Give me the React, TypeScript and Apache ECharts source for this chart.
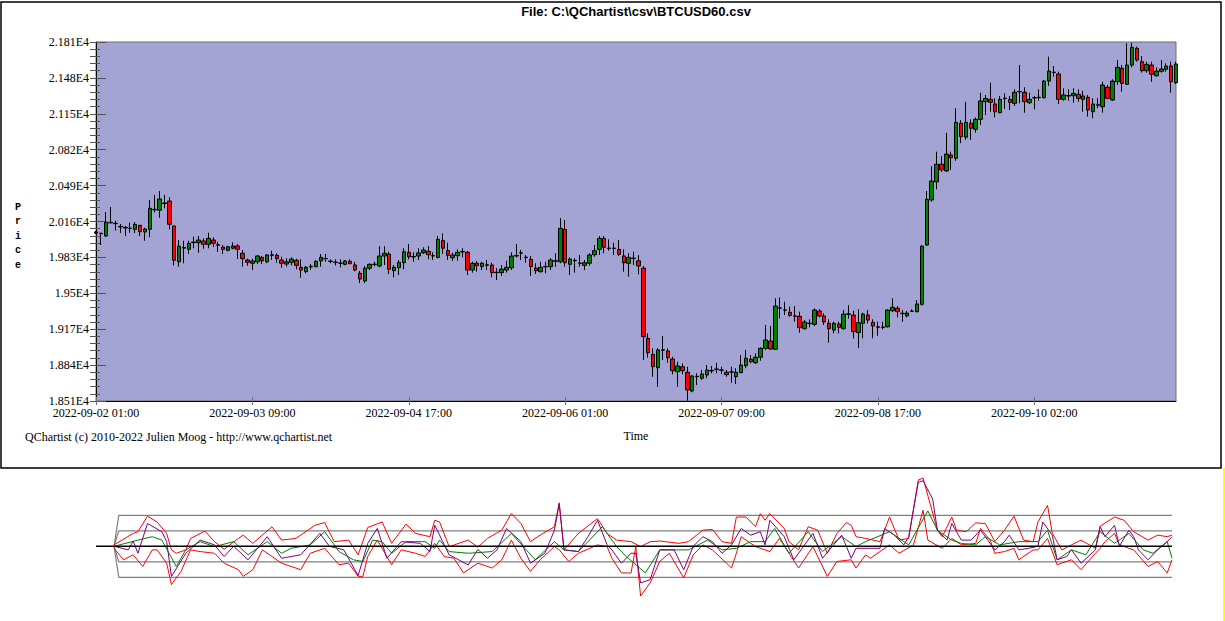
import React, { useEffect, useRef } from "react";
import * as echarts from "echarts";

const tickLabels = ["2022-09-02 01:00", "2022-09-03 09:00", "2022-09-04 17:00", "2022-09-06 01:00", "2022-09-07 09:00", "2022-09-08 17:00", "2022-09-10 02:00"];

const opens = [20064,20052,20027,20153,20144,20115,20106,20095,20088,20125,20064,20088,20272,20263,20330,20348,20119,19790,19915,19904,19966,19965,19981,19950,19990,19946,19925,19895,19914,19935,19868,19806,19776,19790,19830,19790,19849,19849,19806,19769,19785,19803,19739,19699,19743,19745,19797,19820,19793,19786,19778,19766,19794,19760,19684,19613,19731,19768,19751,19843,19861,19708,19735,19781,19877,19838,19843,19873,19886,19846,19830,19984,19892,19827,19846,19880,19877,19714,19776,19745,19762,19760,19694,19690,19714,19735,19843,19872,19832,19812,19731,19699,19743,19745,19799,19790,20088,19766,19799,19776,19757,19776,19855,19904,20005,19916,19912,19904,19843,19776,19820,19799,19731,19086,18939,18816,18977,18970,18896,18779,18825,18774,18602,18733,18719,18749,18791,18800,18796,18774,18778,18733,18770,18834,18893,18862,18912,18994,19061,18985,19363,19347,19325,19292,19288,19175,19222,19215,19337,19291,19224,19162,19218,19177,19307,19300,19138,19224,19300,19233,19192,19186,19192,19340,19362,19316,19293,19335,19331,19399,19944,20358,20524,20686,20625,20771,20741,21063,20935,21063,21008,21099,21261,21283,21240,21160,21290,21283,21246,21352,21348,21252,21296,21299,21298,21451,21530,21516,21283,21314,21316,21329,21283,21302,21169,21229,21215,21394,21277,21445,21568,21421,21598,21752,21629,21546,21598,21500,21540,21559,21589,21436];
const highs = [20073,20056,20247,20293,20167,20137,20119,20149,20155,20128,20103,20358,20404,20440,20404,20382,20120,19990,19983,19983,20021,20027,20005,20057,20014,19974,19944,19935,19969,19953,19898,19818,19818,19852,19843,19861,19892,19868,19836,19822,19830,19818,19812,19751,19769,19806,19861,19861,19812,19812,19812,19806,19812,19788,19705,19751,19776,19790,19933,19933,19882,19760,19806,19914,19953,19877,19914,19923,19933,19877,20027,20051,19965,19873,19904,19914,19889,19790,19797,19790,19806,19781,19731,19760,19799,19877,19953,19899,19852,19843,19776,19790,19790,19822,19868,20192,20174,19830,19822,19852,19806,19868,19944,20027,20027,19996,19965,19990,19904,19868,19882,19852,19751,19132,18995,18995,19107,18994,18917,18871,18856,18825,18749,18765,18795,18841,18832,18862,18825,18795,18825,18811,18933,18979,18933,18948,19004,19209,19199,19454,19463,19423,19377,19383,19331,19255,19261,19361,19353,19316,19261,19239,19239,19346,19392,19340,19353,19322,19346,19261,19239,19239,19353,19454,19383,19346,19337,19353,19438,19942,20440,20670,20802,20762,20976,20802,21201,21092,21261,21099,21117,21344,21323,21436,21292,21314,21338,21314,21375,21598,21394,21344,21314,21375,21461,21675,21589,21537,21384,21375,21384,21375,21362,21323,21292,21292,21445,21415,21467,21644,21598,21798,21803,21767,21681,21629,21629,21577,21644,21614,21629,21629];
const lows = [20045,19944,20018,20140,20076,20054,20027,20057,20054,20027,19983,20015,20244,20195,20281,20088,19757,19745,19776,19861,19914,19873,19910,19914,19927,19882,19861,19886,19904,19816,19745,19754,19714,19769,19769,19776,19806,19781,19735,19745,19757,19721,19643,19684,19714,19739,19745,19790,19776,19757,19739,19757,19769,19702,19595,19595,19714,19748,19739,19760,19677,19647,19668,19721,19812,19790,19806,19861,19812,19806,19821,19861,19806,19799,19799,19830,19668,19690,19699,19714,19714,19647,19622,19659,19690,19714,19830,19806,19781,19659,19677,19690,19684,19714,19745,19776,19745,19668,19690,19745,19714,19754,19836,19852,19868,19892,19852,19843,19699,19653,19760,19674,18887,18908,18733,18641,18887,18862,18755,18641,18755,18512,18590,18657,18703,18719,18765,18765,18758,18733,18678,18666,18765,18811,18856,18850,18880,18979,18979,18979,19267,19300,19285,19239,19138,19166,19187,19199,19279,19209,19046,19132,19132,19162,19267,19085,18998,19086,19224,19086,19110,19169,19186,19327,19279,19239,19279,19332,19325,19387,19935,20342,20456,20616,20616,20634,20718,20880,20911,20911,20977,21047,21139,21170,21117,21155,21194,21185,21222,21246,21160,21240,21191,21270,21292,21406,21491,21240,21270,21270,21252,21261,21169,21124,21109,21201,21160,21283,21270,21415,21353,21415,21577,21629,21528,21528,21445,21491,21528,21537,21344,21424];
const closes = [20054,20048,20153,20148,20140,20110,20100,20099,20134,20066,20091,20281,20268,20367,20325,20134,19803,19933,19920,19959,19971,19990,19950,20005,19960,19942,19904,19928,19935,19904,19819,19785,19797,19843,19799,19852,19854,19819,19776,19790,19815,19757,19714,19739,19748,19794,19830,19818,19796,19784,19776,19797,19772,19714,19631,19731,19766,19764,19843,19868,19721,19739,19785,19882,19836,19834,19871,19898,19855,19843,19996,19914,19849,19852,19877,19884,19714,19776,19754,19776,19758,19690,19690,19721,19739,19843,19847,19870,19828,19745,19708,19739,19747,19806,19795,20097,19781,19815,19802,19778,19781,19852,19892,20005,19923,19912,19915,19858,19781,19830,19823,19751,19101,18954,18825,18979,18981,18908,18788,18832,18788,18611,18740,18737,18758,18795,18787,18804,18793,18752,18776,18774,18841,18903,18871,18912,18994,19071,18988,19383,19366,19345,19297,19290,19184,19236,19226,19346,19291,19236,19175,19224,19187,19309,19311,19147,19230,19309,19254,19199,19188,19190,19346,19371,19331,19313,19318,19337,19402,19933,20364,20532,20686,20634,20780,20746,21072,20940,21072,21017,21099,21268,21292,21256,21169,21283,21294,21256,21348,21355,21261,21283,21298,21302,21451,21543,21533,21283,21323,21317,21338,21292,21314,21185,21240,21233,21415,21292,21451,21577,21430,21598,21761,21644,21546,21605,21513,21543,21562,21589,21445,21608];

const bandLevels = [2, 1, -1, -2];

const oscRedUp = [[0,0.09],[4,0.83],[5,0.94],[7,1.94],[9,1.57],[11,0.83],[12,-0.23],[13,-0.45],[15,-0.23],[16,0.51],[19,0.98],[21,0.3],[23,-0.19],[26,0.51],[27,0.72],[29,0.19],[33,1.26],[35,0.4],[38,0.51],[42,1.36],[44,1.53],[46,0.3],[49,0.4],[51,-0.55],[53,1.21],[56,1.57],[58,0.19],[61,1.43],[63,0.83],[66,0.62],[67,1.68],[68,1.57],[70,-0.02],[74,0.4],[76,-0.06],[78,0.51],[81,1.04],[83,2.11],[85,1.47],[87,0.3],[89,0.72],[92,1.26],[93,2.81],[94,-0.23],[97,0.83],[101,1.79],[103,0.83],[105,0.4],[108,0.3],[110,-0.02],[112,0.3],[114,0.34],[118,0.19],[120,0.3],[123,1.04],[125,1.09],[127,0.3],[129,0.19],[130,1.89],[132,1.89],[134,1.26],[135,2.11],[136,1.68],[137,2.11],[140,1.15],[141,0.3],[143,-0.23],[145,1.26],[147,1.04],[149,-0.45],[151,0.83],[153,1.53],[154,1.36],[155,0.62],[157,0.51],[160,0.3],[162,1.89],[164,0.4],[166,0.51],[168,4.28],[169,4.4],[172,1.04],[173,0.62],[175,1.89],[176,1.04],[178,0.94],[180,1.51],[182,1.47],[184,0.3],[186,1.04],[188,1.94],[190,0.4],[192,0.3],[193,1.57],[195,2.64],[196,0.83],[198,-0.23],[200,0.09],[202,0.4],[205,-0.13],[206,1.3],[209,1.89],[211,1.68],[213,0.94],[216,0.4],[218,0.72],[220,0.62],[221,0.72]];
const oscRedLo = [[0,-0.13],[2,-0.87],[4,-0.55],[6,-1.3],[8,-0.23],[9,-0.23],[11,-1.09],[12,-2.47],[14,-1.62],[16,-0.23],[18,-0.34],[21,-0.45],[23,-1.09],[26,-1.51],[27,-1.94],[29,-1.51],[31,-0.23],[33,-0.66],[35,-1.09],[39,-1.51],[41,-0.45],[44,-0.13],[47,-1.19],[49,-1.09],[51,-1.94],[52,-1.94],[53,-0.66],[55,0.4],[58,-1.19],[60,-0.23],[63,-0.45],[65,-0.66],[67,0.19],[69,-0.66],[71,-0.77],[73,-1.72],[76,-1.09],[79,-1.4],[81,-0.87],[83,0.4],[85,-0.77],[87,-1.62],[89,-0.87],[92,-0.02],[93,-0.23],[95,-0.98],[97,-0.45],[101,0.09],[103,-0.02],[104,-0.77],[106,-1.72],[108,-1.72],[109,-0.02],[110,-3.21],[112,-2.36],[114,-0.98],[116,-0.45],[119,-2.04],[121,-0.55],[123,0.09],[125,-0.23],[129,-1.4],[130,-0.45],[131,0.62],[134,-0.02],[137,-0.34],[139,0.51],[143,-1.4],[146,-0.02],[149,-1.94],[151,-0.98],[154,-0.87],[155,-1.4],[157,-0.55],[158,-0.77],[160,-0.34],[162,0.09],[164,-0.45],[167,0.09],[169,2.32],[170,0.4],[173,-0.13],[175,0.51],[177,0.09],[180,0.19],[181,1.15],[183,0.4],[184,-0.45],[186,-0.34],[188,-0.13],[189,-0.87],[192,-0.23],[193,-0.23],[195,0.51],[197,-1.19],[200,-0.87],[202,-1.51],[205,-0.45],[206,-0.13],[207,0.3],[209,0.83],[210,0.09],[213,-0.23],[216,-1.3],[218,-0.98],[220,-1.72],[221,-0.87]];
const oscPurple = [[0,0],[3,-0.23],[4,0.34],[5,-0.45],[7,1.47],[10,0.94],[11,0.3],[12,-1.94],[15,-0.45],[18,0.4],[21,0.09],[23,-0.66],[25,0],[28,-0.87],[30,-0.13],[32,0.62],[35,-0.77],[39,-0.55],[43,0.83],[45,0],[48,-0.23],[51,-1.89],[53,0.19],[55,1.15],[57,-0.77],[60,0.3],[64,0.19],[66,-0.34],[67,1.36],[70,-0.55],[74,-1.2],[76,-0.2],[78,-0.77],[80,-0.23],[82,1.15],[85,0.3],[87,-1.09],[90,-0.45],[92,1.04],[93,2.74],[94,-0.23],[97,-0.34],[99,0.62],[101,1.68],[103,0.09],[104,-0.23],[106,-1.09],[108,-0.45],[109,-0.45],[110,-2.36],[112,-2.15],[114,-0.23],[117,-0.23],[119,-1.51],[121,0],[123,0.62],[125,0.3],[127,-0.45],[129,0.09],[131,1.15],[133,0.72],[135,0.94],[136,0.09],[137,1.68],[140,0.62],[142,-0.87],[146,0.83],[148,-0.77],[152,0.72],[154,-0.77],[155,-0.13],[158,-0.13],[160,-0.13],[161,1.15],[163,0.72],[165,0.09],[166,0.62],[168,4.13],[169,4.23],[171,3.06],[172,1.04],[174,0.4],[175,1.47],[177,0.4],[179,0.4],[181,1.04],[182,0.62],[184,-0.23],[186,0.3],[187,0.72],[189,-0.23],[191,-0.13],[193,0],[194,1.57],[196,0.72],[197,-0.87],[199,-0.66],[200,-0.23],[202,-1.09],[205,-0.23],[206,1.26],[207,0.62],[209,1.36],[210,0],[212,1.04],[213,0.62],[214,-0.23],[216,-0.87],[218,-0.23],[220,0.3],[221,0.62]];
const oscGreen = [[0,0],[5,0.4],[8,0.62],[10,0.4],[13,-1.3],[15,-0.23],[18,0.3],[21,-0.02],[25,0.3],[28,-0.55],[32,0.3],[35,-0.45],[37,-0.13],[41,0.09],[44,0.94],[47,-0.34],[50,-0.87],[52,-0.98],[54,0.4],[56,0.3],[58,-0.45],[61,0.3],[65,0.3],[67,-0.13],[68,0.4],[70,-0.34],[74,-0.45],[79,-0.34],[83,0.83],[88,-0.87],[92,0.3],[94,-0.23],[97,-0.34],[102,1.26],[105,-0.02],[107,-0.66],[111,-1.72],[114,-0.23],[118,-0.23],[120,-0.23],[124,0.4],[127,-0.23],[130,-0.13],[133,0.3],[136,0.3],[138,1.15],[141,-0.45],[145,0.94],[148,-0.34],[152,0.62],[155,-0.02],[157,0.3],[162,0.94],[166,0.09],[170,2.28],[172,1.04],[175,0.4],[177,0.19],[180,0.09],[182,0.62],[185,0.09],[189,0.3],[193,0.3],[195,1.04],[197,-0.87],[200,-0.23],[203,-0.55],[206,0.94],[209,0.19],[212,0.83],[215,-0.23],[217,-0.45],[220,0.3],[221,-0.77]];

const SERIF = "'Liberation Serif', 'Times New Roman', serif";

export default function App() {
  const ref = useRef<HTMLDivElement>(null);
  useEffect(() => {
    if (!ref.current) return;
    const chart = echarts.init(ref.current, null, { renderer: "svg" });
    const cats = opens.map((_, i) => String(i));
    const candleData = opens.map((o, i) => [o, closes[i], lows[i], highs[i]]);
    const last = opens.length - 1;
    const oscLine = (data: number[][], color: string, z: number) => ({
      type: "line", xAxisIndex: 2, yAxisIndex: 3, data, symbol: "none", silent: true, z,
      lineStyle: { color, width: 1 }, clip: false,
    });
    chart.setOption({
      animation: false,
      backgroundColor: "#ffffff",
      grid: [
        { left: 96, top: 42, width: 1080, height: 359, show: true, backgroundColor: "#A4A4D4", borderColor: "#6e6e6e", borderWidth: 1 },
        { left: 96, top: 468.8, width: 1076, height: 139.5 },
      ],
      xAxis: [
        {
          type: "category", gridIndex: 0, data: cats, boundaryGap: false, position: "bottom",
          axisLine: { show: true, lineStyle: { color: "#000", width: 1 } },
          axisTick: { show: true, interval: 31, inside: true, length: 4, lineStyle: { color: "#707070" } },
          axisLabel: { interval: 31, formatter: (v: string) => tickLabels[Math.round(Number(v) / 32)] ?? "", fontFamily: SERIF, fontSize: 12, color: "#000", margin: 6 },
          splitLine: { show: false },
        },
        {
          type: "category", gridIndex: 0, data: cats, boundaryGap: false, position: "bottom",
          axisLine: { show: false },
          axisTick: { show: true, interval: 31, inside: false, length: 4, lineStyle: { color: "#707070" } },
          axisLabel: { show: false }, splitLine: { show: false },
        },
        { type: "value", gridIndex: 1, min: -3.76, max: last, show: false },
      ],
      yAxis: [
        { type: "value", gridIndex: 0, min: 18510, max: 21810, show: false, position: "left" },
        {
          type: "value", gridIndex: 0, min: 0, max: 3300, interval: 330, position: "left",
          axisLine: { show: true, lineStyle: { color: "#000", width: 1 } },
          axisTick: { show: true, length: 6, lineStyle: { color: "#555" } },
          minorTick: { show: true, splitNumber: 5, length: 6, lineStyle: { color: "#555" } },
          axisLabel: { formatter: (v: number) => Math.round((v + 18510) / 10) / 1000 + "E4", fontFamily: SERIF, fontSize: 12, color: "#000", margin: 7 },
          splitLine: { show: false }, minorSplitLine: { show: false },
        },
        {
          type: "value", gridIndex: 0, min: 0, max: 3300, interval: 330, position: "left",
          axisLine: { show: false },
          axisTick: { show: true, inside: true, length: 10, lineStyle: { color: "#555" } },
          minorTick: { show: true, splitNumber: 5, length: 4, lineStyle: { color: "#555" } },
          axisLabel: { show: false }, splitLine: { show: false },
        },
        { type: "value", gridIndex: 1, min: -4, max: 5, show: false },
      ],
      series: [
        {
          type: "candlestick", xAxisIndex: 0, yAxisIndex: 0, data: candleData, barWidth: 4, clip: false, silent: true,
          itemStyle: { color: "#008000", color0: "#FF0000", borderColor: "#000", borderColor0: "#000", borderWidth: 1 },
        },
        ...bandLevels.map((lvl) => ({
          type: "line", xAxisIndex: 2, yAxisIndex: 3, symbol: "none", silent: true, z: 1,
          data: [[0, 0], [1, lvl], [last, lvl]], lineStyle: { color: "#808080", width: 1.2 },
        })),
        oscLine(oscRedUp, "#FF0000", 2),
        oscLine(oscRedLo, "#FF0000", 2),
        oscLine(oscGreen, "#008000", 3),
        oscLine(oscPurple, "#800080", 4),
        {
          type: "line", xAxisIndex: 2, yAxisIndex: 3, symbol: "none", silent: true, z: 5,
          data: [[-3.76, 0], [last, 0]], lineStyle: { color: "#000", width: 1.5 },
        },
      ],
      graphic: [
        { type: "rect", shape: { x: 1, y: 2, width: 1220, height: 466 }, style: { fill: "none", stroke: "#000", lineWidth: 1.5 }, silent: true },
        { type: "line", shape: { x1: 1224, y1: 468, x2: 1224, y2: 621 }, style: { stroke: "#FFFF00", lineWidth: 2 }, silent: true },
        { type: "text", x: 636, y: 11, style: { text: "File: C:\\QChartist\\csv\\BTCUSD60.csv", fill: "#000", font: "bold 13px 'Liberation Sans', Arial, sans-serif", align: "center", verticalAlign: "middle" } },
        { type: "text", x: 18, y: 200, style: { text: "P\nr\ni\nc\ne", fill: "#000", font: "bold 10px 'Liberation Mono', monospace", align: "center", verticalAlign: "top", lineHeight: 14.5 } },
        { type: "text", x: 636, y: 436, style: { text: "Time", fill: "#000", font: "12px " + SERIF, align: "center", verticalAlign: "middle" } },
        { type: "text", x: 25, y: 437, style: { text: "QChartist (c) 2010-2022 Julien Moog - http://www.qchartist.net", fill: "#000", font: "12px " + SERIF, align: "left", verticalAlign: "middle" } },
      ],
    });
    return () => chart.dispose();
  }, []);
  return <div ref={ref} style={{ position: "fixed", left: 0, top: 0, width: 1225, height: 621, background: "#fff" }} />;
}
